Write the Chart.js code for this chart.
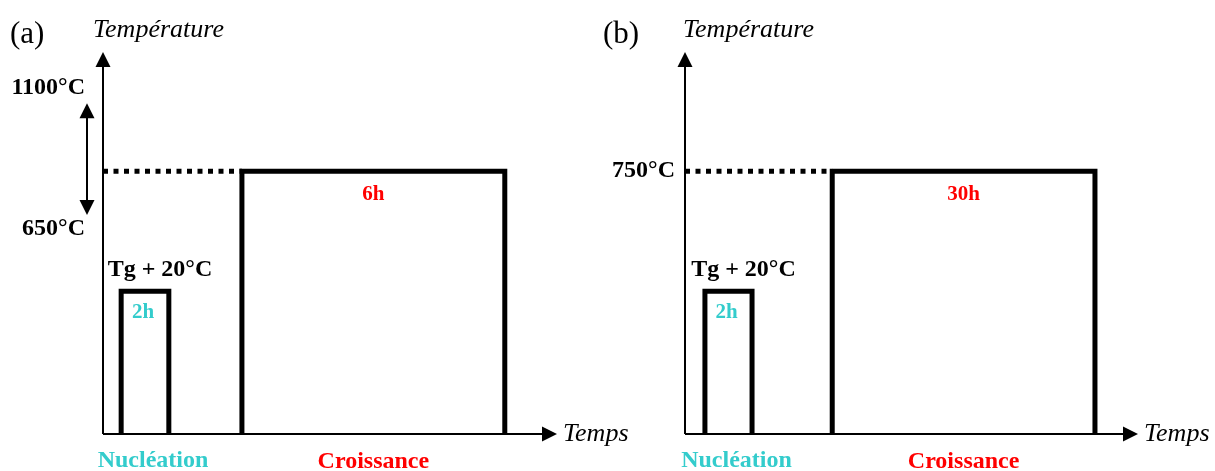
<!DOCTYPE html>
<html>
<head>
<meta charset="utf-8">
<script src="https://cdn.jsdelivr.net/npm/chart.js@4"></script>
<style>
  body { margin: 0; background: #fff; width: 1215px; height: 471px; position: relative; overflow: hidden; }
  canvas { position: absolute; top: 0; }
  #chart-a { left: 0; }
  #chart-b { left: 582px; }
</style>
</head>
<body>
<canvas id="chart-a" width="640" height="471"></canvas>
<canvas id="chart-b" width="633" height="471"></canvas>
<script>
// schematic units: x = time (0-100), y = temperature (0-100)
const stageLabels = ['Nucléation', 'Croissance'];
const durationsA = ['2h', '6h'];
const durationsB = ['2h', '30h'];
const nucleationA = [4, 14.5];      // start, end
const croissanceA = [30.6, 88.5];
const nucleationB = [4.4, 14.8];
const croissanceB = [32.5, 90.5];
const nucleationLevel = 37.4;       // Tg + 20°C
const croissanceLevel = 68.8;
const tempTicksA = ['1100°C', '650°C'];
const tempTickValuesA = [90.6, 53.7];
const tempRangeA = [86.6, 57.3];    // double arrow between 1100 and 650
const tempTicksB = ['750°C'];
const tempTickValuesB = [68.8];

const CYAN = '#33CCCC';
const RED = '#FF0000';
const SERIF = '"Liberation Serif", "Times New Roman", serif';

const rectPoints = (range, level) => [
  { x: range[0], y: 0 }, { x: range[0], y: level },
  { x: range[1], y: level }, { x: range[1], y: 0 }
];

function line(ctx, x1, y1, x2, y2) {
  ctx.beginPath(); ctx.moveTo(x1, y1); ctx.lineTo(x2, y2); ctx.stroke();
}
function head(ctx, tx, ty, dir) {
  // dir: 'up' | 'down' | 'right'
  ctx.beginPath();
  if (dir === 'up') { ctx.moveTo(tx, ty); ctx.lineTo(tx - 7.5, ty + 15); ctx.lineTo(tx + 7.5, ty + 15); }
  if (dir === 'down') { ctx.moveTo(tx, ty); ctx.lineTo(tx - 7.5, ty - 15); ctx.lineTo(tx + 7.5, ty - 15); }
  if (dir === 'right') { ctx.moveTo(tx, ty); ctx.lineTo(tx - 15, ty - 7.5); ctx.lineTo(tx - 15, ty + 7.5); }
  ctx.closePath(); ctx.fill();
}
function text(ctx, s, x, y, font, color, align) {
  ctx.font = font; ctx.fillStyle = color; ctx.textAlign = align || 'center';
  ctx.textBaseline = 'middle'; ctx.fillText(s, x, y);
}

const schemePlugin = {
  id: 'scheme',
  afterDatasetsDraw(chart, args, o) {
    const { ctx, chartArea: a, scales: { x, y } } = chart;
    ctx.save();
    ctx.strokeStyle = '#000'; ctx.fillStyle = '#000'; ctx.lineWidth = 2;

    // axes with arrows
    line(ctx, a.left, a.bottom, a.left, a.top + 12);
    head(ctx, a.left, a.top, 'up');
    line(ctx, a.left, a.bottom, a.right - 12, a.bottom);
    head(ctx, a.right, a.bottom, 'right');

    text(ctx, o.title, a.left + o.titleDx, a.top - 17, '31px ' + SERIF, '#000', 'left');
    text(ctx, 'Température', a.left + o.axisDx, a.top - 22, 'italic 26px ' + SERIF, '#000', 'left');
    text(ctx, 'Temps', a.right + 6, a.bottom, 'italic 26px ' + SERIF, '#000', 'left');

    // temperature labels
    o.ticks.forEach((t, i) => {
      text(ctx, t, a.left + o.tickDx, y.getPixelForValue(o.tickValues[i]), 'bold 24px ' + SERIF, '#000', 'right');
    });
    if (o.range) {
      const ax = a.left - 16;
      const y1 = y.getPixelForValue(o.range[0]), y2 = y.getPixelForValue(o.range[1]);
      ctx.lineWidth = 2;
      line(ctx, ax, y1 + 12, ax, y2 - 12);
      head(ctx, ax, y1, 'up');
      head(ctx, ax, y2, 'down');
    }

    const nMid = x.getPixelForValue((o.nucleation[0] + o.nucleation[1]) / 2);
    const cMid = x.getPixelForValue((o.croissance[0] + o.croissance[1]) / 2);
    const nTop = y.getPixelForValue(nucleationLevel);
    const cTop = y.getPixelForValue(croissanceLevel);

    text(ctx, 'Tg + 20°C', nMid + 15, nTop - 21, 'bold 24px ' + SERIF, '#000');
    text(ctx, o.durations[0], nMid - 2, nTop + 21, 'bold 21px ' + SERIF, CYAN);
    text(ctx, o.durations[1], cMid, cTop + 23, 'bold 21px ' + SERIF, RED);
    text(ctx, stageLabels[0], nMid + 8, a.bottom + 27, 'bold 24px ' + SERIF, CYAN);
    text(ctx, stageLabels[1], cMid, a.bottom + 28, 'bold 24px ' + SERIF, RED);
    ctx.restore();
  }
};

function makeChart(id, nucleation, croissance, durations, opts) {
  const ds = (data, extra) => Object.assign({
    data, borderColor: '#000', borderWidth: 5, pointRadius: 0,
    tension: 0, fill: false, clip: false,
    borderJoinStyle: 'miter', borderCapStyle: 'butt'
  }, extra);

  return new Chart(document.getElementById(id), {
    type: 'line',
    data: {
      datasets: [
        ds([{ x: 0, y: croissanceLevel }, { x: croissance[0], y: croissanceLevel }], { borderWidth: 5, borderDash: [5, 5.5] }),
        ds(rectPoints(nucleation, nucleationLevel)),
        ds(rectPoints(croissance, croissanceLevel))
      ]
    },
    options: {
      responsive: false,
      animation: false,
      devicePixelRatio: 1,
      layout: { padding: opts.padding },
      scales: {
        x: { type: 'linear', min: 0, max: 100, display: false },
        y: { type: 'linear', min: 0, max: 100, display: false }
      },
      plugins: {
        legend: { display: false },
        tooltip: { enabled: false },
        scheme: Object.assign({ nucleation, croissance, durations }, opts.scheme)
      }
    },
    plugins: [schemePlugin]
  });
}

makeChart('chart-a', nucleationA, croissanceA, durationsA, {
  padding: { left: 103, right: 83, top: 52, bottom: 37 },
  scheme: { title: '(a)', titleDx: -93, axisDx: -10, ticks: tempTicksA, tickValues: tempTickValuesA, tickDx: -18, range: tempRangeA }
});
makeChart('chart-b', nucleationB, croissanceB, durationsB, {
  padding: { left: 103, right: 77, top: 52, bottom: 37 },
  scheme: { title: '(b)', titleDx: -82, axisDx: -2, ticks: tempTicksB, tickValues: tempTickValuesB, tickDx: -10, range: null }
});
</script>
</body>
</html>
